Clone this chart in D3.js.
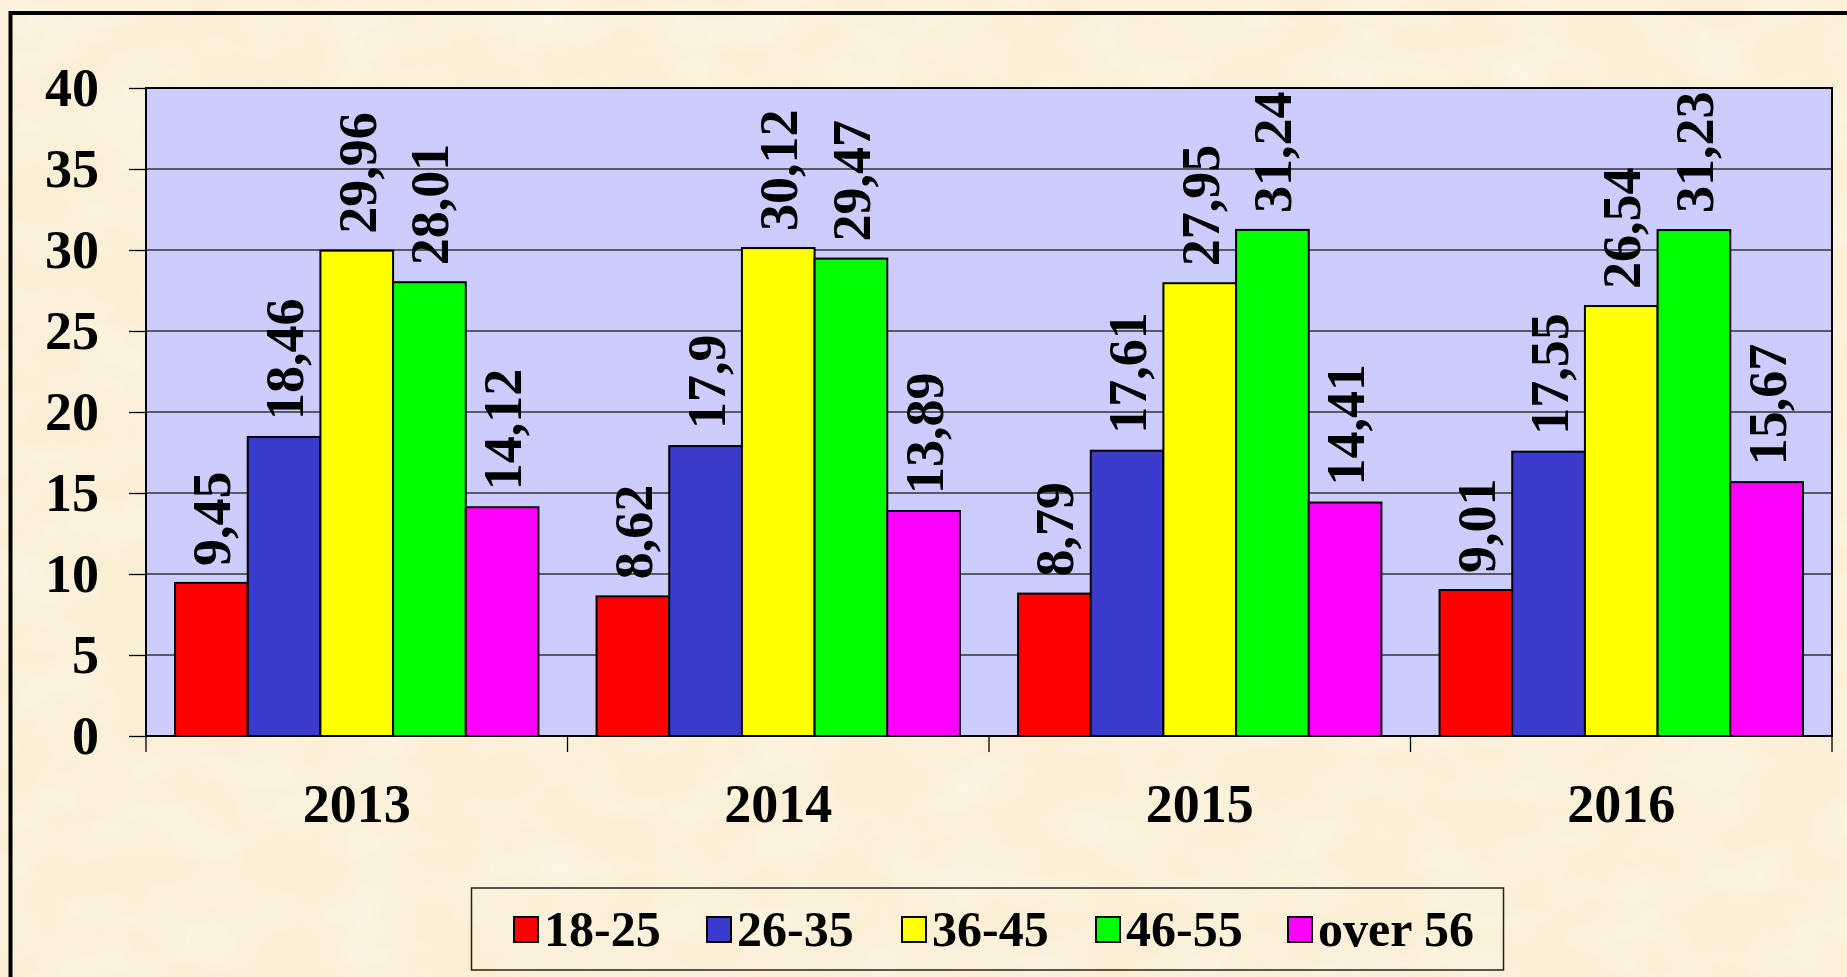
<!DOCTYPE html>
<html>
<head>
<meta charset="utf-8">
<script src="https://cdn.jsdelivr.net/npm/d3@7"></script>
<style>
  html, body { margin: 0; padding: 0; overflow: hidden; background: #fbf0d8; }
  svg { display: block; }
  svg text { font-family: "Liberation Serif", "Times New Roman", serif; font-weight: bold; }
</style>
</head>
<body>
<svg id="chart" width="1847" height="977"></svg>
<script>
const years = ['2013', '2014', '2015', '2016'];
const groups = ['18-25', '26-35', '36-45', '46-55', 'over 56'];
const colors = ['#ff0000', '#3a3acc', '#ffff00', '#00ff00', '#ff00ff'];
const values = {
  '18-25': [9.45, 8.62, 8.79, 9.01],
  '26-35': [18.46, 17.9, 17.61, 17.55],
  '36-45': [29.96, 30.12, 27.95, 26.54],
  '46-55': [28.01, 29.47, 31.24, 31.23],
  'over 56': [14.12, 13.89, 14.41, 15.67]
};
const yTicks = [0, 5, 10, 15, 20, 25, 30, 35, 40];

const margin = { top: 88, right: 15, bottom: 241, left: 146 };
const W = 1847, H = 977;
const width = W - margin.left - margin.right;
const height = H - margin.top - margin.bottom;
const serif = '"Liberation Serif", "Times New Roman", serif';

const svg = d3.select('#chart');

// parchment background
const defs = svg.append('defs');
const f = defs.append('filter').attr('id', 'paper').attr('x', 0).attr('y', 0).attr('width', 1).attr('height', 1);
f.append('feTurbulence').attr('type', 'fractalNoise').attr('baseFrequency', '0.012 0.02').attr('numOctaves', 3).attr('seed', 4);
f.append('feColorMatrix').attr('type', 'matrix')
  .attr('values', '0 0 0 0 1  0 0 0 0 0.97  0 0 0 0 0.88  0 0 0 -1.1 0.75');
svg.append('rect').attr('width', W).attr('height', H).attr('fill', '#faeed4');
svg.append('rect').attr('width', W).attr('height', H).attr('filter', 'url(#paper)').attr('opacity', 0.8);

// outer frame (runs off right and bottom edge)
svg.append('rect')
  .attr('x', 10.5).attr('y', 13).attr('width', W + 20).attr('height', H + 20)
  .attr('fill', 'none').attr('stroke', '#000').attr('stroke-width', 4);

const g = svg.append('g').attr('transform', `translate(${margin.left},${margin.top})`);

const x0 = d3.scaleBand().domain(years).range([0, width]);
const x1 = d3.scaleBand().domain(groups).range([0, x0.bandwidth()]).paddingOuter(0.4);
const y = d3.scaleLinear().domain([0, 40]).range([height, 0]);

g.append('rect').attr('width', width).attr('height', height).attr('fill', '#ccccff');

// gridlines
g.append('g').selectAll('line').data(yTicks.slice(1, -1)).join('line')
  .attr('x1', 0).attr('x2', width)
  .attr('y1', d => y(d)).attr('y2', d => y(d))
  .attr('stroke', '#333').attr('stroke-width', 1.3);

// y axis
const yAxis = g.append('g')
  .call(d3.axisLeft(y).tickValues(yTicks).tickSize(17).tickPadding(30));
yAxis.select('.domain').remove();
yAxis.attr('font-family', serif);
yAxis.selectAll('.tick line').attr('stroke', '#000').attr('stroke-width', 1.3);
yAxis.selectAll('.tick text')
  .attr('font-size', 54).attr('font-family', serif).attr('font-weight', 'bold')
  .attr('fill', '#000').attr('dy', '0.33em');

// x axis: ticks at category boundaries
const xAxis = g.append('g').attr('transform', `translate(0,${height})`);
xAxis.selectAll('line').data(d3.range(years.length + 1)).join('line')
  .attr('x1', i => i * x0.step()).attr('x2', i => i * x0.step())
  .attr('y1', 0).attr('y2', 16)
  .attr('stroke', '#000').attr('stroke-width', 1.3);
xAxis.selectAll('text').data(years).join('text')
  .attr('x', d => x0(d) + x0.bandwidth() / 2)
  .attr('y', 86)
  .attr('text-anchor', 'middle')
  .attr('font-family', serif)
  .attr('font-size', 54)
  .text(d => d);

// bars
const yearG = g.append('g').selectAll('g').data(years).join('g')
  .attr('transform', d => `translate(${x0(d)},0)`);

yearG.selectAll('rect').data((yr, i) => groups.map((k, j) => ({ k, j, v: values[k][i] }))).join('rect')
  .attr('x', d => x1(d.k))
  .attr('width', x1.bandwidth())
  .attr('y', d => y(d.v))
  .attr('height', d => height - y(d.v))
  .attr('fill', d => colors[d.j])
  .attr('stroke', '#000').attr('stroke-width', 2);

yearG.selectAll('text').data((yr, i) => groups.map((k, j) => ({ k, j, v: values[k][i] }))).join('text')
  .attr('transform', d => `translate(${x1(d.k) + x1.bandwidth() / 2 + 19},${y(d.v) - 17}) rotate(-90)`)
  .attr('font-family', serif)
  .attr('font-size', 54)
  .attr('fill', '#000')
  .text(d => String(d.v).replace('.', ','));

// plot border
g.append('rect').attr('width', width).attr('height', height)
  .attr('fill', 'none').attr('stroke', '#000').attr('stroke-width', 2);

// legend
const legend = svg.append('g');
legend.append('rect')
  .attr('x', 471.5).attr('y', 888).attr('width', 1032).attr('height', 82)
  .attr('fill', 'none').attr('stroke', '#222').attr('stroke-width', 1.5);

const legendX = [514, 707, 902, 1096, 1288];
const li = legend.selectAll('g.item').data(groups).join('g').attr('class', 'item')
  .attr('transform', (d, i) => `translate(${legendX[i]},0)`);
li.append('rect')
  .attr('x', 0).attr('y', 917).attr('width', 24).attr('height', 25)
  .attr('fill', (d, i) => colors[i]).attr('stroke', '#000').attr('stroke-width', 2);
li.append('text')
  .attr('x', 30).attr('y', 946)
  .attr('font-family', serif)
  .attr('font-size', 50)
  .text(d => d);
</script>
</body>
</html>
